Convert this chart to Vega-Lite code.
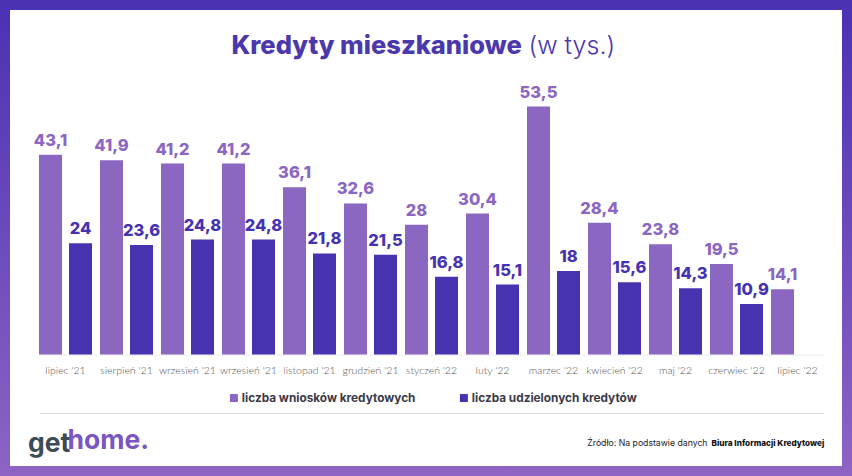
{
  "$schema": "https://vega.github.io/schema/vega-lite/v6.json",
  "width": 852,
  "height": 476,
  "padding": 0,
  "autosize": {"type": "none"},
  "background": "white",
  "config": {
    "font": "Inter",
    "locale": {"number": {"decimal": ",", "thousands": "\u00a0", "grouping": [3], "currency": ["", " zł"]}},
    "view": {
      "fill": "white",
      "strokeWidth": 20,
      "stroke": {"gradient": "linear", "x1": 0, "y1": 0, "x2": 0, "y2": 1, "stops": [{"offset": 0, "color": "#4a31b3"}, {"offset": 1, "color": "#8e64c4"}]}
    }
  },
  "title": {
    "text": "get",
    "anchor": "start",
    "frame": "group",
    "orient": "top",
    "offset": 0,
    "dx": 28,
    "dy": 478,
    "baseline": "alphabetic",
    "font": "Inter",
    "fontSize": 26.5,
    "fontWeight": 700,
    "color": "#3d4a57"
  },
  "data": {
    "values": [
      {"miesiac": "lipiec '21", "seria": "liczba wniosków kredytowych", "wartosc": 43.1},
      {"miesiac": "lipiec '21", "seria": "liczba udzielonych kredytów", "wartosc": 24},
      {"miesiac": "sierpień '21", "seria": "liczba wniosków kredytowych", "wartosc": 41.9},
      {"miesiac": "sierpień '21", "seria": "liczba udzielonych kredytów", "wartosc": 23.6},
      {"miesiac": "wrzesień '21", "seria": "liczba wniosków kredytowych", "wartosc": 41.2},
      {"miesiac": "wrzesień '21", "seria": "liczba udzielonych kredytów", "wartosc": 24.8},
      {"miesiac": "wrzesień '21\u200b", "seria": "liczba wniosków kredytowych", "wartosc": 41.2},
      {"miesiac": "wrzesień '21\u200b", "seria": "liczba udzielonych kredytów", "wartosc": 24.8},
      {"miesiac": "listopad '21", "seria": "liczba wniosków kredytowych", "wartosc": 36.1},
      {"miesiac": "listopad '21", "seria": "liczba udzielonych kredytów", "wartosc": 21.8},
      {"miesiac": "grudzień '21", "seria": "liczba wniosków kredytowych", "wartosc": 32.6},
      {"miesiac": "grudzień '21", "seria": "liczba udzielonych kredytów", "wartosc": 21.5},
      {"miesiac": "styczeń '22", "seria": "liczba wniosków kredytowych", "wartosc": 28},
      {"miesiac": "styczeń '22", "seria": "liczba udzielonych kredytów", "wartosc": 16.8},
      {"miesiac": "luty '22", "seria": "liczba wniosków kredytowych", "wartosc": 30.4},
      {"miesiac": "luty '22", "seria": "liczba udzielonych kredytów", "wartosc": 15.1},
      {"miesiac": "marzec '22", "seria": "liczba wniosków kredytowych", "wartosc": 53.5},
      {"miesiac": "marzec '22", "seria": "liczba udzielonych kredytów", "wartosc": 18},
      {"miesiac": "kwiecień '22", "seria": "liczba wniosków kredytowych", "wartosc": 28.4},
      {"miesiac": "kwiecień '22", "seria": "liczba udzielonych kredytów", "wartosc": 15.6},
      {"miesiac": "maj '22", "seria": "liczba wniosków kredytowych", "wartosc": 23.8},
      {"miesiac": "maj '22", "seria": "liczba udzielonych kredytów", "wartosc": 14.3},
      {"miesiac": "czerwiec '22", "seria": "liczba wniosków kredytowych", "wartosc": 19.5},
      {"miesiac": "czerwiec '22", "seria": "liczba udzielonych kredytów", "wartosc": 10.9},
      {"miesiac": "lipiec '22", "seria": "liczba wniosków kredytowych", "wartosc": 14.1}
    ]
  },
  "layer": [
    {
      "mark": {"type": "bar"},
      "encoding": {
        "x": {
          "field": "miesiac", "type": "ordinal", "sort": null,
          "scale": {"range": [39, 824], "paddingInner": 0.1311, "paddingOuter": 0},
          "axis": {
            "orient": "bottom", "offset": -121.5,
            "domainColor": "#ececec", "domainWidth": 1,
            "ticks": false, "grid": false,
            "labelAngle": 0, "labelPadding": 18.5, "labelBaseline": "alphabetic",
            "labelFont": "Lato", "labelFontSize": 10.5, "labelFontWeight": 300, "labelColor": "#555555",
            "title": "Źródło: Na podstawie danych",
            "titleX": 707, "titleY": 90.5, "titleAlign": "right", "titleBaseline": "alphabetic", "titleAnchor": null,
            "titleFont": "Inter", "titleFontSize": 8.7, "titleFontWeight": 400, "titleColor": "#222222"
          }
        },
        "xOffset": {
          "field": "seria", "type": "nominal",
          "scale": {"domain": ["liczba wniosków kredytowych", "liczba udzielonych kredytów"], "paddingInner": 0.2333, "paddingOuter": 0}
        },
        "y": {
          "field": "wartosc", "type": "quantitative",
          "scale": {"domain": [-26.21, 76.48], "nice": false, "zero": false},
          "axis": {
            "orient": "left", "labels": false, "ticks": false, "domain": false, "grid": false,
            "title": "Kredyty mieszkaniowe",
            "titleX": 231, "titleY": 53, "titleAngle": 0, "titleAlign": "left", "titleBaseline": "alphabetic", "titleAnchor": null,
            "titleFont": "Inter", "titleFontSize": 25.5, "titleFontWeight": 800, "titleColor": "#4b38ac"
          }
        },
        "color": {
          "field": "seria", "type": "nominal",
          "scale": {"domain": ["liczba wniosków kredytowych", "liczba udzielonych kredytów"], "range": ["#8c67c1", "#4733b0"]},
          "legend": {
            "orient": "none", "legendX": 228, "legendY": 392, "direction": "horizontal", "title": null,
            "symbolType": "square", "symbolSize": 64, "symbolStrokeWidth": 0,
            "labelFont": "Inter", "labelFontSize": 11.8, "labelFontWeight": 700, "labelColor": "#3b3a48",
            "labelOffset": 2, "labelLimit": 400, "columnPadding": 42
          }
        }
      }
    },
    {
      "mark": {"type": "text", "baseline": "alphabetic", "dy": -9, "font": "Inter", "fontSize": 16.5, "fontWeight": 800},
      "encoding": {
        "x": {
          "field": "miesiac", "type": "ordinal", "sort": null,
          "axis": {
            "orient": "top", "offset": -413,
            "domainColor": "#dddddd", "domainWidth": 1,
            "ticks": false, "grid": false,
            "values": ["lipiec '21"], "labelExpr": "'home.'",
            "labelAngle": 0, "labelAlign": "left", "labelOffset": 2, "labelPadding": -35, "labelBaseline": "alphabetic",
            "labelFont": "Inter", "labelFontSize": 26.5, "labelFontWeight": 700, "labelColor": "#7b55c0",
            "title": "Biura Informacji Kredytowej",
            "titleX": 711, "titleY": 32, "titleAlign": "left", "titleBaseline": "alphabetic", "titleAnchor": null,
            "titleFont": "Inter", "titleFontSize": 8.2, "titleFontWeight": 800, "titleColor": "#111111"
          }
        },
        "xOffset": {"field": "seria", "type": "nominal"},
        "y": {
          "field": "wartosc", "type": "quantitative",
          "axis": {
            "orient": "right", "labels": false, "ticks": false, "domain": false, "grid": false,
            "title": "(w tys.)",
            "titleX": -324, "titleY": 53, "titleAngle": 0, "titleAlign": "left", "titleBaseline": "alphabetic", "titleAnchor": null,
            "titleFont": "Inter", "titleFontSize": 25, "titleFontWeight": 300, "titleColor": "#4b38ac"
          }
        },
        "text": {"field": "wartosc", "type": "quantitative", "format": ".3~r"},
        "color": {"field": "seria", "type": "nominal"}
      }
    }
  ],
  "resolve": {"axis": {"x": "independent", "y": "independent"}}
}
